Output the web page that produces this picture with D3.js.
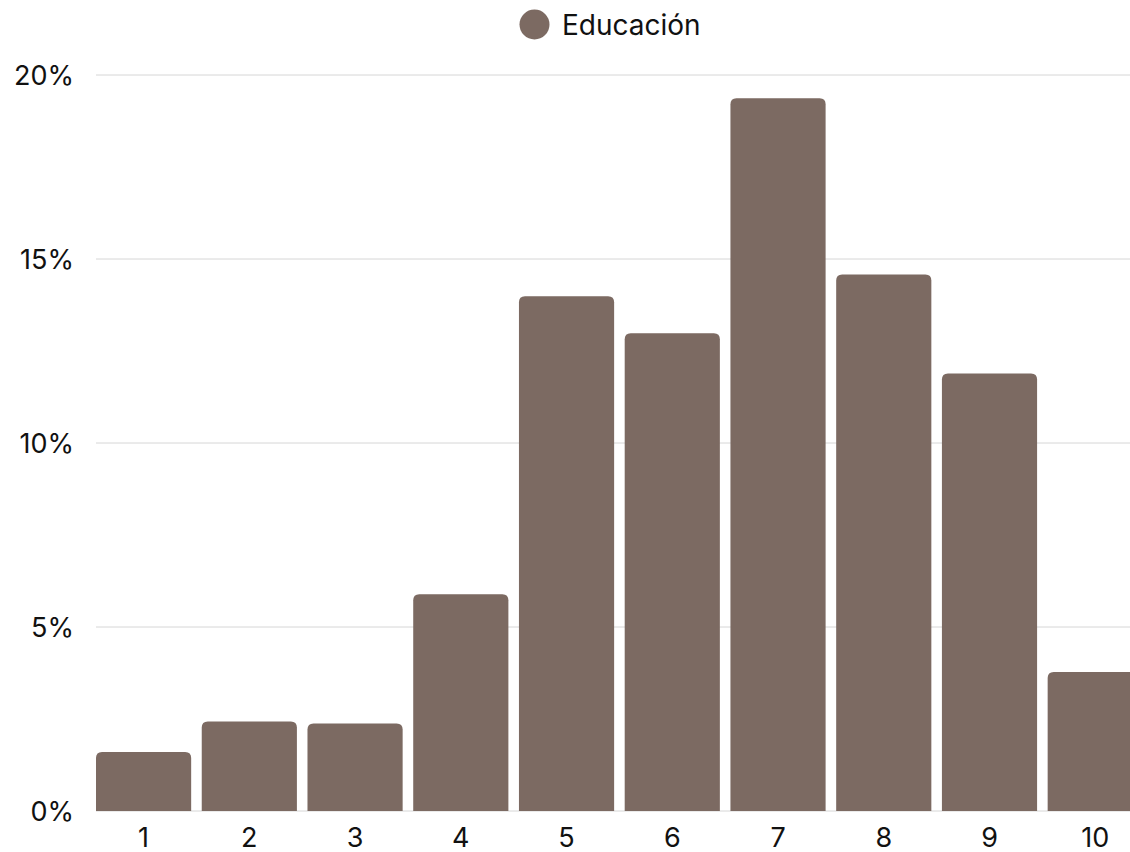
<!DOCTYPE html>
<html>
<head>
<meta charset="utf-8">
<script src="https://cdn.jsdelivr.net/npm/d3@7"></script>
<style>
html, body { margin: 0; padding: 0; background: #fff; }
svg { display: block; }
text { font-family: "Inter", "DejaVu Sans", sans-serif; fill: #111; }
</style>
</head>
<body>
<svg id="chart" width="1130" height="852"></svg>
<script>
const categories = ["1", "2", "3", "4", "5", "6", "7", "8", "9", "10"];
const seriesName = "Educación";
const values = [1.6, 2.43, 2.38, 5.89, 13.99, 12.98, 19.37, 14.58, 11.89, 3.78];
const yTicks = [0, 5, 10, 15, 20];
const barColor = "#7c6a62";

(function () {
const svg = d3.select("#chart");
const W = 1130;
const mLeft = 96, mTop = 75, mBottom = 811;

const x = d3.scaleBand()
  .domain(categories)
  .range([mLeft, mLeft + 9.9 * 105.74])
  .paddingInner(0.1)
  .paddingOuter(0);

const y = d3.scaleLinear().domain([0, 20]).range([mBottom, mTop]);

// gridlines
svg.append("g").selectAll("line").data(yTicks).join("line")
  .attr("x1", mLeft).attr("x2", W)
  .attr("y1", d => y(d)).attr("y2", d => y(d))
  .attr("stroke", "#d6d6d6").attr("stroke-width", 1);

// y labels
svg.append("g").selectAll("text").data(yTicks).join("text")
  .attr("x", 74).attr("y", d => y(d))
  .attr("text-anchor", "end").attr("dominant-baseline", "central")
  .style("font-size", "27px")
  .text(d => d + "%");

// bars with rounded top corners
const r = 6;
function barPath(d, i) {
  const x0 = x(categories[i]);
  const w = x.bandwidth();
  const y0 = y(0);
  const y1 = y(d);
  const rr = Math.min(r, (y0 - y1));
  return `M${x0},${y0} L${x0},${y1 + rr} Q${x0},${y1} ${x0 + rr},${y1} L${x0 + w - rr},${y1} Q${x0 + w},${y1} ${x0 + w},${y1 + rr} L${x0 + w},${y0} Z`;
}
svg.append("g").selectAll("path").data(values).join("path")
  .attr("d", barPath)
  .attr("fill", barColor);

// x labels
svg.append("g").selectAll("text").data(categories).join("text")
  .attr("x", d => x(d) + x.bandwidth() / 2)
  .attr("y", 837)
  .attr("text-anchor", "middle").attr("dominant-baseline", "central")
  .style("font-size", "27px")
  .text(d => d);

// legend
const lg = svg.append("g");
lg.append("circle").attr("cx", 534.5).attr("cy", 24.5).attr("r", 15).attr("fill", barColor);
lg.append("text").attr("x", 562).attr("y", 24.5)
  .attr("dominant-baseline", "central")
  .style("font-size", "28px")
  .text(seriesName);
})();
</script>
</body>
</html>
